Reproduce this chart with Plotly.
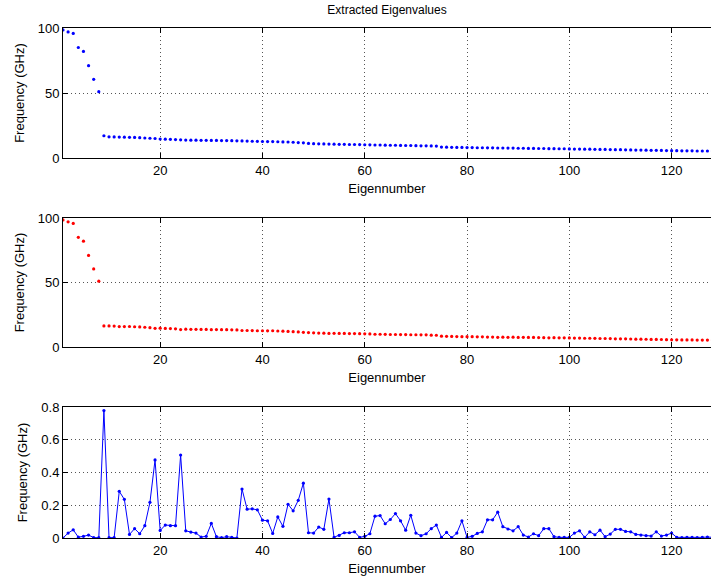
import plotly.graph_objects as go

eig_num = list(range(1, 129))

freq_a = [98.5, 97.0, 95.8, 85.0, 82.0, 71.0, 60.5, 51.0, 17.1, 16.3,
          16.2, 16.1, 16.0, 15.9, 15.8, 15.6, 15.4, 15.2, 15.0, 14.6,
          14.5, 14.4, 14.2, 14.0, 13.8, 13.7, 13.7, 13.6, 13.6, 13.5,
          13.5, 13.4, 13.4, 13.3, 13.2, 13.1, 13.0, 12.9, 12.8, 12.7,
          12.6, 12.6, 12.5, 12.4, 12.3, 12.1, 11.9, 11.7, 11.2, 11.0,
          10.9, 10.8, 10.7, 10.6, 10.5, 10.5, 10.4, 10.4, 10.3, 10.2,
          10.1, 10.0, 10.0, 9.9, 9.8, 9.8, 9.7, 9.6, 9.6, 9.5,
          9.4, 9.4, 9.3, 9.2, 8.4, 8.3, 8.2, 8.1, 8.1, 8.0,
          8.0, 7.9, 7.9, 7.8, 7.8, 7.7, 7.7, 7.6, 7.6, 7.5,
          7.5, 7.4, 7.4, 7.3, 7.3, 7.2, 7.2, 7.1, 7.1, 7.0,
          6.9, 6.9, 6.8, 6.8, 6.7, 6.6, 6.6, 6.5, 6.4, 6.4,
          6.3, 6.2, 6.1, 6.1, 6.0, 5.9, 5.9, 5.8, 5.7, 5.6,
          5.6, 5.5, 5.5, 5.5, 5.4, 5.4, 5.4, 5.3]

freq_b = [98.5, 97.0, 95.8, 85.0, 82.0, 71.0, 60.5, 51.0, 16.3, 16.3,
          16.2, 15.8, 15.8, 15.9, 15.7, 15.6, 15.3, 15.0, 14.5, 14.6,
          14.4, 14.3, 14.1, 13.5, 13.8, 13.7, 13.7, 13.6, 13.6, 13.4,
          13.5, 13.4, 13.4, 13.3, 13.2, 12.8, 12.8, 12.7, 12.6, 12.6,
          12.5, 12.6, 12.4, 12.3, 12.1, 11.9, 11.7, 11.4, 11.2, 11.0,
          10.8, 10.7, 10.5, 10.6, 10.5, 10.5, 10.4, 10.4, 10.3, 10.2,
          10.1, 9.9, 9.9, 9.8, 9.7, 9.7, 9.6, 9.6, 9.5, 9.5,
          9.4, 9.4, 9.2, 9.1, 8.4, 8.3, 8.2, 8.1, 8.0, 8.0,
          8.0, 7.9, 7.9, 7.7, 7.7, 7.5, 7.6, 7.5, 7.6, 7.4,
          7.5, 7.4, 7.4, 7.3, 7.2, 7.1, 7.2, 7.1, 7.1, 7.0,
          6.9, 6.9, 6.8, 6.8, 6.7, 6.6, 6.6, 6.5, 6.3, 6.3,
          6.3, 6.2, 6.1, 6.1, 6.0, 5.9, 5.9, 5.8, 5.7, 5.6,
          5.6, 5.5, 5.5, 5.5, 5.4, 5.4, 5.4, 5.3]

freq_diff = [0.0, 0.03, 0.05, 0.005, 0.01, 0.018, 0.002, 0.002, 0.778, 0.002,
             0.002, 0.285, 0.236, 0.022, 0.057, 0.026, 0.075, 0.218, 0.477, 0.046,
             0.079, 0.075, 0.075, 0.507, 0.044, 0.036, 0.03, 0.006, 0.01, 0.089,
             0.008, 0.002, 0.008, 0.004, 0.0, 0.299, 0.176, 0.178, 0.172, 0.109,
             0.105, 0.028, 0.129, 0.071, 0.206, 0.166, 0.23, 0.335, 0.032, 0.03,
             0.067, 0.053, 0.238, 0.004, 0.016, 0.032, 0.032, 0.038, 0.004, 0.01,
             0.026, 0.133, 0.137, 0.087, 0.113, 0.149, 0.105, 0.048, 0.139, 0.03,
             0.014, 0.026, 0.057, 0.079, 0.004, 0.034, 0.002, 0.03, 0.105, 0.004,
             0.01, 0.028, 0.038, 0.111, 0.111, 0.158, 0.069, 0.055, 0.044, 0.069,
             0.018, 0.006, 0.026, 0.014, 0.057, 0.057, 0.008, 0.004, 0.004, 0.004,
             0.03, 0.044, 0.004, 0.038, 0.02, 0.048, 0.008, 0.024, 0.053, 0.053,
             0.04, 0.038, 0.022, 0.018, 0.014, 0.012, 0.038, 0.012, 0.018, 0.03,
             0.004, 0.002, 0.004, 0.004, 0.002, 0.004, 0.006, 0.004]

x_ticks = [20, 40, 60, 80, 100, 120]
y_ticks_top = [0, 50, 100]
y_ticks_bottom = [0, 0.2, 0.4, 0.6, 0.8]
y_labels_bottom = ["0", "0.2", "0.4", "0.6", "0.8"]

TITLE = "Extracted Eigenvalues"
XLABEL = "Eigennumber"
YLABEL = "Frequency (GHz)"

H = 581.0
def yd(top_px, bot_px):
    return [1 - bot_px / H, 1 - top_px / H]

fig = go.Figure()
fig.add_trace(go.Scatter(x=eig_num, y=freq_a, mode="markers",
                         marker=dict(color="#0000ff", size=3.2),
                         xaxis="x", yaxis="y", showlegend=False))
fig.add_trace(go.Scatter(x=eig_num, y=freq_b, mode="markers",
                         marker=dict(color="#ff0000", size=3.2),
                         xaxis="x2", yaxis="y2", showlegend=False))
fig.add_trace(go.Scatter(x=eig_num, y=freq_diff, mode="lines+markers",
                         line=dict(color="#0000ff", width=1),
                         marker=dict(color="#0000ff", size=3.2),
                         xaxis="x3", yaxis="y3", showlegend=False))

font = dict(family="Liberation Sans, Arial, sans-serif", size=13, color="black")
GRID = dict(showgrid=True, gridcolor="#555555", griddash="1px,3px", gridwidth=1)

def xax(anchor):
    return dict(range=[1, 127.7], tickvals=x_ticks, ticks="inside", ticklen=5,
                tickcolor="black", showline=True, linecolor="black", linewidth=1,
                mirror="allticks", zeroline=False, anchor=anchor,
                title=dict(text=XLABEL, font=font, standoff=7),
                tickfont=font, automargin=False, domain=[0, 1], **GRID)

def yax(anchor, rng, ticks, labels, dom):
    return dict(range=rng, tickvals=ticks, ticktext=labels, ticks="inside", ticklen=5,
                tickcolor="black", showline=True, linecolor="black", linewidth=1,
                mirror=False, zeroline=False, anchor=anchor,
                title=dict(text=YLABEL, font=font, standoff=10),
                tickfont=font, automargin=False, domain=dom, **GRID)

fig.update_layout(
    width=711, height=581,
    margin=dict(l=63, r=0, t=0, b=0),
    paper_bgcolor="white", plot_bgcolor="white",
    font=font,
    title=dict(text=TITLE, x=387 / 711, xanchor="center", y=1 - 10 / H,
               yanchor="middle", font=dict(family=font["family"], size=12, color="black")),
    xaxis=xax("y"),
    yaxis=yax("x", [0, 100], y_ticks_top, [str(v) for v in y_ticks_top], yd(28, 158)),
    xaxis2=xax("y2"),
    yaxis2=yax("x2", [0, 100], y_ticks_top, [str(v) for v in y_ticks_top], yd(218, 347)),
    xaxis3=xax("y3"),
    yaxis3=yax("x3", [0, 0.8], y_ticks_bottom, y_labels_bottom, yd(407, 538)),
)

fig.write_html("out.html", config={"displayModeBar": False},
               post_script="document.body.style.margin='0';document.body.style.overflow='hidden';")
